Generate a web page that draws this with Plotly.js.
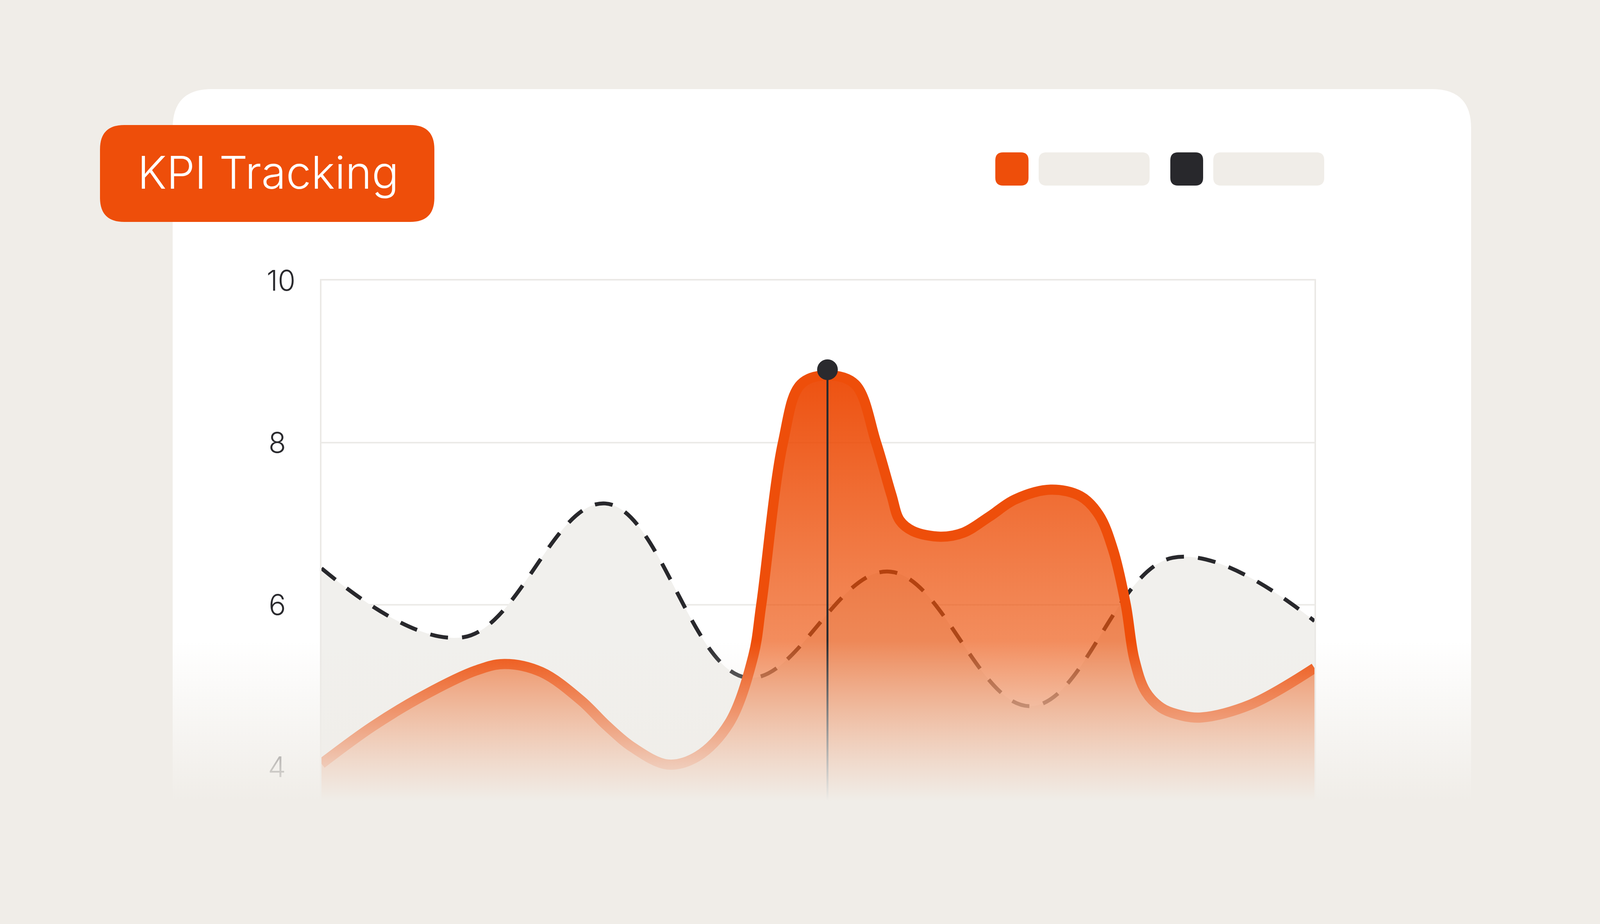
<!DOCTYPE html>
<html><head><meta charset="utf-8">
<script src="https://cdn.plot.ly/plotly-3.0.1.min.js"></script>
<style>html,body{margin:0;padding:0;background:#f0ede8;overflow:hidden}#chart{width:4204px;height:2365px}</style>
</head><body><div id="chart"></div>
<script>
// ---- data ----
const titleText = 'KPI Tracking';
const seriesNames = ['KPI A', 'KPI B'];
const orangeX = [0.00, 0.36, 0.73, 1.09, 1.29, 1.55, 1.83, 2.01, 2.195, 2.44, 2.65, 2.874, 3.044, 3.10, 3.253, 3.379,
                 3.567, 3.762, 3.910, 4.017, 4.077, 4.169, 4.362, 4.525, 4.71, 4.89, 5.14, 5.35, 5.48, 5.58, 5.67,
                 5.73, 5.81, 5.92, 6.03, 6.20, 6.55, 7.00];
const orangeY = [4.04, 4.50, 4.89, 5.19, 5.27, 5.17, 4.82, 4.51, 4.24, 4.03, 4.13, 4.54, 5.37, 6.00, 8.00, 8.72,
                 8.83, 8.72, 8.00, 7.36, 7.04, 6.91, 6.84, 6.89, 7.09, 7.30, 7.42, 7.34, 7.11, 6.68, 6.00,
                 5.33, 4.93, 4.73, 4.65, 4.61, 4.77, 5.22];
const dashX = [0, 1, 2, 3, 4, 5, 6, 7];
const dashY = [6.45, 5.60, 7.25, 5.10, 6.41, 4.75, 6.58, 5.80];
const hoverX = 3.567, hoverY = 8.90;
const yTickVals = [4, 6, 8, 10];
const yTickText = ['4', '6', '8', '10'];
const yRange = [3.5, 10];
const xRange = [0, 7];

// ---- colours ----
const BG = '#f0ede8', ORANGE = '#ee4e0a', DARK = '#28282c';

const W = 4204, H = 2365;
const X = v => (v / W).toFixed(6), Y = v => (1 - v / H).toFixed(6);
function rr(x0, y0, x1, y1, r) {
  return `M${X(x0 + r)},${Y(y0)} L${X(x1 - r)},${Y(y0)} Q${X(x1)},${Y(y0)} ${X(x1)},${Y(y0 + r)} ` +
    `L${X(x1)},${Y(y1 - r)} Q${X(x1)},${Y(y1)} ${X(x1 - r)},${Y(y1)} L${X(x0 + r)},${Y(y1)} ` +
    `Q${X(x0)},${Y(y1)} ${X(x0)},${Y(y1 - r)} L${X(x0)},${Y(y0 + r)} Q${X(x0)},${Y(y0)} ${X(x0 + r)},${Y(y0)} Z`;
}
// pad single-digit labels so they sit centred under the two-digit one
const tickTextPadded = yTickText.map(t => t.length === 1 ? t + '\u2004' : t);

const traces = [
  { x: dashX, y: dashY, name: seriesNames[1], mode: 'lines', fill: 'tozeroy', fillcolor: '#f1f0ed',
    line: { color: DARK, width: 10, dash: '46px,36px', shape: 'spline', smoothing: 1.1, simplify: false }, hoverinfo: 'skip' },
  { x: orangeX, y: orangeY, name: seriesNames[0], mode: 'lines', fill: 'tozeroy',
    fillgradient: { type: 'vertical', start: 4, stop: 9,
      colorscale: [[0, 'rgba(238,105,38,0.60)'], [0.5, 'rgba(236,74,1,0.72)'], [1, 'rgba(236,69,0,0.95)']] },
    line: { color: ORANGE, width: 26, shape: 'spline', smoothing: 1, simplify: false }, hoverinfo: 'skip' },
  { x: [hoverX, hoverX], y: [yRange[0], hoverY], mode: 'lines', line: { color: '#2a2a2e', width: 5 }, hoverinfo: 'skip' },
  { x: [hoverX], y: [hoverY], mode: 'markers', marker: { size: 53, color: '#2a2a2e' }, hoverinfo: 'skip' }
];

const ovTop = 1560, ovBot = H;
const svg = `<svg xmlns='http://www.w3.org/2000/svg' width='${W}' height='${ovBot - ovTop}' preserveAspectRatio='none'>` +
  `<defs><linearGradient id='g' x1='0' y1='0' x2='0' y2='1'>` +
  `<stop offset='0' stop-color='${BG}' stop-opacity='0'/>` +
  `<stop offset='${((1640 - ovTop) / (ovBot - ovTop)).toFixed(4)}' stop-color='${BG}' stop-opacity='0'/>` +
  `<stop offset='${((2050 - ovTop) / (ovBot - ovTop)).toFixed(4)}' stop-color='${BG}' stop-opacity='1'/>` +
  `<stop offset='1' stop-color='${BG}' stop-opacity='1'/></linearGradient></defs>` +
  `<rect width='${W}' height='${ovBot - ovTop}' fill='url(#g)'/></svg>`;

const plotTop = 718, plotBot = 718 + (yRange[1] - yRange[0]) * 207.5;
const layout = {
  width: W, height: H, margin: { l: 0, r: 0, t: 0, b: 0, pad: 0 },
  paper_bgcolor: BG, plot_bgcolor: '#ffffff', showlegend: false,
  font: { family: 'Inter, "DejaVu Sans", sans-serif' },
  xaxis: { domain: [823 / W, 3365 / W], range: xRange, showgrid: false, zeroline: false, showticklabels: false,
    showline: true, mirror: true, linecolor: '#ebe9e6', linewidth: 4, ticks: '' },
  yaxis: { domain: [1 - plotBot / H, 1 - plotTop / H], range: yRange, tickvals: yTickVals, ticktext: tickTextPadded,
    showgrid: true, gridcolor: '#ecebe8', gridwidth: 4, zeroline: false,
    showline: true, mirror: true, linecolor: '#ebe9e6', linewidth: 4, ticks: '', ticklabelstandoff: 48,
    tickfont: { family: 'Inter', size: 73, color: '#2a2a2e', weight: 300 } },
  shapes: [
    { type: 'path', xref: 'paper', yref: 'paper', layer: 'below', path: rr(442, 228, 3766, 2300, 100), fillcolor: '#ffffff', line: { width: 0 } },
    { type: 'path', xref: 'paper', yref: 'paper', layer: 'above', path: rr(256, 320, 1112, 568, 62), fillcolor: ORANGE, line: { width: 0 } },
    { type: 'path', xref: 'paper', yref: 'paper', layer: 'below', path: rr(2548, 390, 2633, 475, 20), fillcolor: ORANGE, line: { width: 0 } },
    { type: 'path', xref: 'paper', yref: 'paper', layer: 'below', path: rr(2659, 390, 2943, 475, 20), fillcolor: BG, line: { width: 0 } },
    { type: 'path', xref: 'paper', yref: 'paper', layer: 'below', path: rr(2996, 390, 3080, 475, 20), fillcolor: DARK, line: { width: 0 } },
    { type: 'path', xref: 'paper', yref: 'paper', layer: 'below', path: rr(3106, 390, 3390, 475, 20), fillcolor: BG, line: { width: 0 } }
  ],
  annotations: [
    { text: titleText, xref: 'paper', yref: 'paper', x: 686 / W, y: 1 - 442 / H, xanchor: 'center', yanchor: 'middle',
      showarrow: false, font: { family: 'Inter', size: 115, color: '#ffffff', weight: 300 } }
  ],
  images: [
    { source: 'data:image/svg+xml;charset=utf-8,' + encodeURIComponent(svg), xref: 'paper', yref: 'paper',
      x: 0, y: 1 - ovTop / H, sizex: 1, sizey: (ovBot - ovTop) / H, xanchor: 'left', yanchor: 'top',
      sizing: 'stretch', layer: 'above' }
  ]
};

Plotly.newPlot('chart', traces, layout, { staticPlot: true, displayModeBar: false });
</script>
</body></html>
